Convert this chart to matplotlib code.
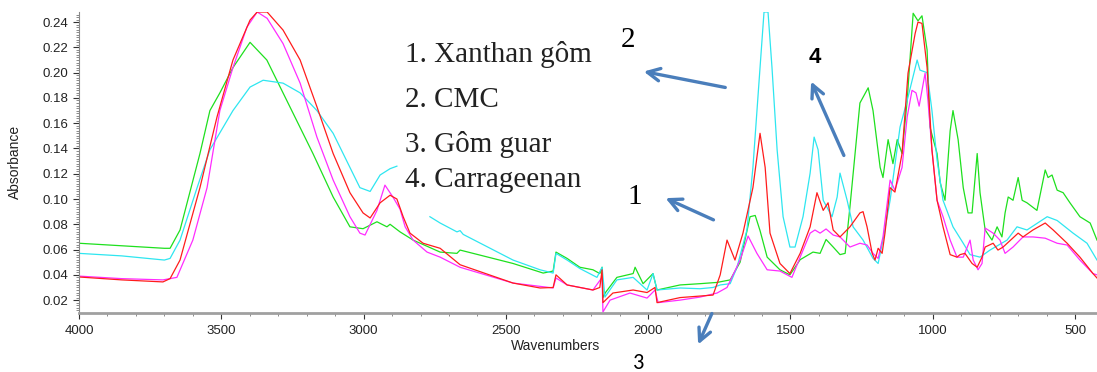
import matplotlib.pyplot as plt
import numpy as np

# (wavenumber, absorbance) pairs
green = [(4000, 0.065), (3850, 0.063), (3700, 0.061), (3680, 0.061), (3645, 0.0755), (3575, 0.136),
         (3540, 0.170), (3505, 0.184), (3459, 0.204), (3399, 0.224), (3340, 0.210), (3259, 0.173),
         (3178, 0.136), (3107, 0.1016), (3048, 0.078), (3002, 0.0765), (2953, 0.082), (2918, 0.078),
         (2907, 0.080), (2872, 0.074), (2826, 0.0675), (2731, 0.058), (2672, 0.057), (2661, 0.0596),
         (2475, 0.049), (2369, 0.0414), (2334, 0.043), (2324, 0.058), (2285, 0.053), (2240, 0.046),
         (2194, 0.044), (2170, 0.041), (2162, 0.046), (2159, 0.022), (2150, 0.026), (2110, 0.038),
         (2053, 0.041), (2046, 0.046), (2018, 0.033), (1983, 0.041), (1969, 0.028), (1888, 0.032),
         (1818, 0.033), (1758, 0.034), (1712, 0.036), (1677, 0.050), (1642, 0.086), (1624, 0.087),
         (1607, 0.075), (1582, 0.054), (1537, 0.044), (1502, 0.040), (1466, 0.052), (1421, 0.058),
         (1396, 0.057), (1375, 0.068), (1350, 0.062), (1326, 0.056), (1308, 0.057), (1291, 0.094),
         (1256, 0.176), (1227, 0.188), (1210, 0.170), (1185, 0.125), (1175, 0.117), (1157, 0.147),
         (1140, 0.128), (1125, 0.147), (1108, 0.136), (1090, 0.178), (1069, 0.247), (1052, 0.241),
         (1038, 0.245), (1020, 0.218), (1010, 0.157), (985, 0.136), (974, 0.113), (957, 0.099),
         (939, 0.154), (929, 0.170), (911, 0.147), (893, 0.109), (876, 0.089), (862, 0.089),
         (844, 0.136), (834, 0.105), (816, 0.0755), (792, 0.0675), (774, 0.078), (757, 0.070),
         (746, 0.089), (735, 0.1016), (718, 0.099), (700, 0.117), (686, 0.099), (669, 0.097),
         (634, 0.091), (605, 0.123), (595, 0.117), (581, 0.119), (563, 0.107), (542, 0.105),
         (518, 0.097), (483, 0.086), (447, 0.081), (423, 0.0675)]

cyan = [(4000, 0.057), (3850, 0.055), (3700, 0.0517), (3680, 0.053), (3645, 0.0675), (3585, 0.109),
        (3540, 0.139), (3459, 0.170), (3399, 0.1886), (3353, 0.194), (3283, 0.1917), (3223, 0.184),
        (3164, 0.170), (3107, 0.152), (3048, 0.125), (3013, 0.109), (2977, 0.106), (2942, 0.119),
        (2907, 0.124), (2883, 0.126), (2880, np.nan), (2770, np.nan), (2767, 0.086), (2731, 0.081),
        (2672, 0.074), (2661, 0.075), (2650, 0.072), (2475, 0.0517), (2380, 0.044), (2334, 0.0414),
        (2324, 0.057), (2285, 0.0517), (2240, 0.045), (2180, 0.038), (2162, 0.046), (2152, 0.0224),
        (2110, 0.036), (2053, 0.038), (2004, 0.028), (1983, 0.041), (1969, 0.028), (1888, 0.0296),
        (1818, 0.029), (1772, 0.030), (1747, 0.032), (1712, 0.033), (1688, 0.046), (1653, 0.0755),
        (1632, 0.125), (1607, 0.204), (1593, 0.248), (1579, 0.248), (1565, 0.204), (1547, 0.139),
        (1526, 0.086), (1502, 0.062), (1484, 0.062), (1456, 0.086), (1431, 0.1205), (1417, 0.149),
        (1403, 0.139), (1385, 0.099), (1354, 0.086), (1336, 0.1016), (1326, 0.1205), (1301, 0.099),
        (1280, 0.078), (1245, 0.0675), (1210, 0.053), (1192, 0.049), (1175, 0.0675), (1150, 0.099),
        (1115, 0.157), (1090, 0.178), (1055, 0.210), (1045, 0.202), (1020, 0.200), (1003, 0.170),
        (985, 0.131), (964, 0.099), (929, 0.078), (893, 0.065), (869, 0.056), (834, 0.054),
        (799, 0.0596), (739, 0.0675), (704, 0.078), (669, 0.0755), (598, 0.086), (563, 0.083),
        (507, 0.073), (458, 0.065), (423, 0.0517)]

magenta = [(4000, 0.039), (3850, 0.037), (3705, 0.036), (3656, 0.038), (3600, 0.0675), (3550, 0.109),
           (3505, 0.170), (3459, 0.204), (3410, 0.236), (3374, 0.248), (3339, 0.243), (3283, 0.223),
           (3223, 0.1917), (3164, 0.149), (3107, 0.115), (3048, 0.086), (3013, 0.073), (2995, 0.0715),
           (2953, 0.091), (2925, 0.111), (2897, 0.1016), (2872, 0.092), (2854, 0.078), (2826, 0.0675),
           (2777, 0.058), (2731, 0.054), (2661, 0.046), (2475, 0.0335), (2334, 0.0296), (2324, 0.0375),
           (2285, 0.032), (2194, 0.028), (2162, 0.038), (2159, 0.0106), (2134, 0.020), (2064, 0.0256),
           (2004, 0.0216), (1976, 0.028), (1965, 0.018), (1888, 0.020), (1818, 0.0224), (1758, 0.0256),
           (1723, 0.030), (1677, 0.0517), (1649, 0.0707), (1618, 0.057), (1582, 0.044), (1537, 0.043),
           (1495, 0.038), (1466, 0.054), (1431, 0.073), (1414, 0.0755), (1396, 0.073), (1375, 0.0763),
           (1350, 0.0715), (1326, 0.070), (1291, 0.062), (1256, 0.065), (1231, 0.0636), (1210, 0.057),
           (1192, 0.053), (1175, 0.070), (1150, 0.115), (1133, 0.107), (1108, 0.125), (1090, 0.165),
           (1073, 0.186), (1059, 0.184), (1048, 0.1735), (1027, 0.1996), (1017, 0.178), (1003, 0.139),
           (985, 0.099), (964, 0.086), (939, 0.0675), (915, 0.054), (893, 0.054), (869, 0.0675),
           (858, 0.0517), (841, 0.044), (827, 0.049), (816, 0.077), (788, 0.073), (764, 0.0675),
           (746, 0.057), (718, 0.062), (683, 0.070), (648, 0.070), (605, 0.069), (563, 0.065),
           (528, 0.0636), (483, 0.0517), (437, 0.041), (423, 0.040)]

red = [(4000, 0.0383), (3850, 0.036), (3705, 0.0344), (3680, 0.037), (3645, 0.0517), (3575, 0.109),
       (3515, 0.165), (3459, 0.210), (3399, 0.2416), (3374, 0.248), (3339, 0.248), (3283, 0.2337),
       (3223, 0.210), (3164, 0.173), (3107, 0.136), (3048, 0.105), (3002, 0.089), (2977, 0.085),
       (2942, 0.097), (2907, 0.103), (2883, 0.100), (2861, 0.086), (2837, 0.073), (2791, 0.065),
       (2731, 0.061), (2661, 0.048), (2475, 0.0335), (2380, 0.0296), (2334, 0.030), (2324, 0.040),
       (2285, 0.032), (2194, 0.028), (2170, 0.030), (2162, 0.044), (2159, 0.018), (2124, 0.0256),
       (2053, 0.028), (2004, 0.026), (1976, 0.030), (1969, 0.018), (1888, 0.022), (1772, 0.024),
       (1747, 0.040), (1723, 0.0675), (1695, 0.0517), (1667, 0.073), (1632, 0.109), (1607, 0.152),
       (1589, 0.125), (1572, 0.073), (1537, 0.049), (1502, 0.041), (1466, 0.057), (1431, 0.078),
       (1407, 0.105), (1385, 0.091), (1368, 0.097), (1350, 0.0755), (1326, 0.070), (1291, 0.078),
       (1256, 0.089), (1245, 0.090), (1231, 0.078), (1213, 0.057), (1203, 0.0517), (1192, 0.061),
       (1178, 0.057), (1168, 0.073), (1150, 0.109), (1133, 0.1055), (1108, 0.136), (1087, 0.1996),
       (1062, 0.231), (1052, 0.240), (1038, 0.239), (1020, 0.204), (1003, 0.139), (985, 0.099),
       (964, 0.078), (939, 0.056), (915, 0.054), (904, 0.056), (887, 0.057), (862, 0.049),
       (844, 0.046), (827, 0.054), (816, 0.062), (788, 0.065), (771, 0.0596), (753, 0.062),
       (700, 0.073), (683, 0.070), (648, 0.0755), (605, 0.081), (577, 0.0755), (528, 0.065),
       (483, 0.054), (437, 0.041), (423, 0.0375)]

series = [(green, '#1ee01e'), (cyan, '#2ee6f0'), (magenta, '#ff2cff'), (red, '#ff1c1c')]

legend_lines = ['1. Xanthan gôm', '2. CMC', '3. Gôm guar', '4. Carrageenan']

plt.rcParams['font.family'] = ['Liberation Sans', 'DejaVu Sans']

fig = plt.figure(figsize=(10.97, 3.72), dpi=100)
ax = fig.add_axes([79 / 1097, 1 - 313 / 372, 1 - 79 / 1097, (313 - 12) / 372])

for data, col in series:
    wn, ab = zip(*data)
    ax.plot(wn, ab, color=col, lw=0.9)

ax.set_xlim(4000, 423)
ax.set_ylim(0.0098, 0.248)
ax.set_xticks([4000, 3500, 3000, 2500, 2000, 1500, 1000, 500])
ax.set_xticks(np.arange(500, 4000, 100), minor=True)
ax.set_yticks(np.arange(0.02, 0.245, 0.02))
ax.set_yticks(np.arange(0.012, 0.248, 0.002), minor=True)
ax.yaxis.set_major_formatter(plt.FormatStrFormatter('%.2f'))

for s in ['top', 'right']:
    ax.spines[s].set_visible(False)
ax.spines['bottom'].set_color('#a0a0a0')
ax.spines['bottom'].set_linewidth(2)
ax.spines['left'].set_color('#888888')
ax.spines['left'].set_linewidth(0.8)
ax.tick_params(axis='both', labelsize=9.5, colors='#333333', length=4, width=0.8)
ax.tick_params(axis='both', which='minor', length=2, width=0.6, colors='#777777')
ax.tick_params(axis='x', pad=5)
for lab in ax.get_xticklabels() + ax.get_yticklabels():
    lab.set_color('#222222')

fig.text(15 / 1097, 1 - 162 / 372, 'Absorbance', rotation=90, ha='center', va='center',
         fontsize=10, color='#222222')
fig.text(556 / 1097, 1 - 346 / 372, 'Wavenumbers', ha='center', va='center',
         fontsize=10, color='#222222')

# legend block in serif
baselines = [62, 107, 152, 187]
for txt, yb in zip(legend_lines, baselines):
    fig.text(405 / 1097, 1 - yb / 372, txt, family='Liberation Serif', fontsize=21,
             va='baseline', ha='left', color='#222222')

fig.text(621 / 1097, 1 - 47 / 372, '2', family='Liberation Serif', fontsize=21, va='baseline')
fig.text(627 / 1097, 1 - 204 / 372, '1', family='Liberation Serif', fontsize=21, va='baseline')
fig.text(633 / 1097, 1 - 369 / 372, '3', family='Carlito', fontsize=16, va='baseline')
fig.text(809 / 1097, 1 - 63 / 372, '4', family='Liberation Sans', fontsize=16, va='baseline',
         fontweight='bold')

arrow_col = '#4a7ebb'
arrows = [((728, 88), (641, 71)), ((716, 221), (663, 197)), ((713, 311), (697, 347)),
          ((845, 158), (810, 79))]
for (x0, y0), (x1, y1) in arrows:
    ax.annotate('', xy=(x1 / 1097, 1 - y1 / 372), xytext=(x0 / 1097, 1 - y0 / 372),
                xycoords='figure fraction', textcoords='figure fraction',
                arrowprops=dict(arrowstyle='->,head_length=0.9,head_width=0.45',
                                color=arrow_col, lw=2.4))

plt.savefig('out.png', dpi=100)
